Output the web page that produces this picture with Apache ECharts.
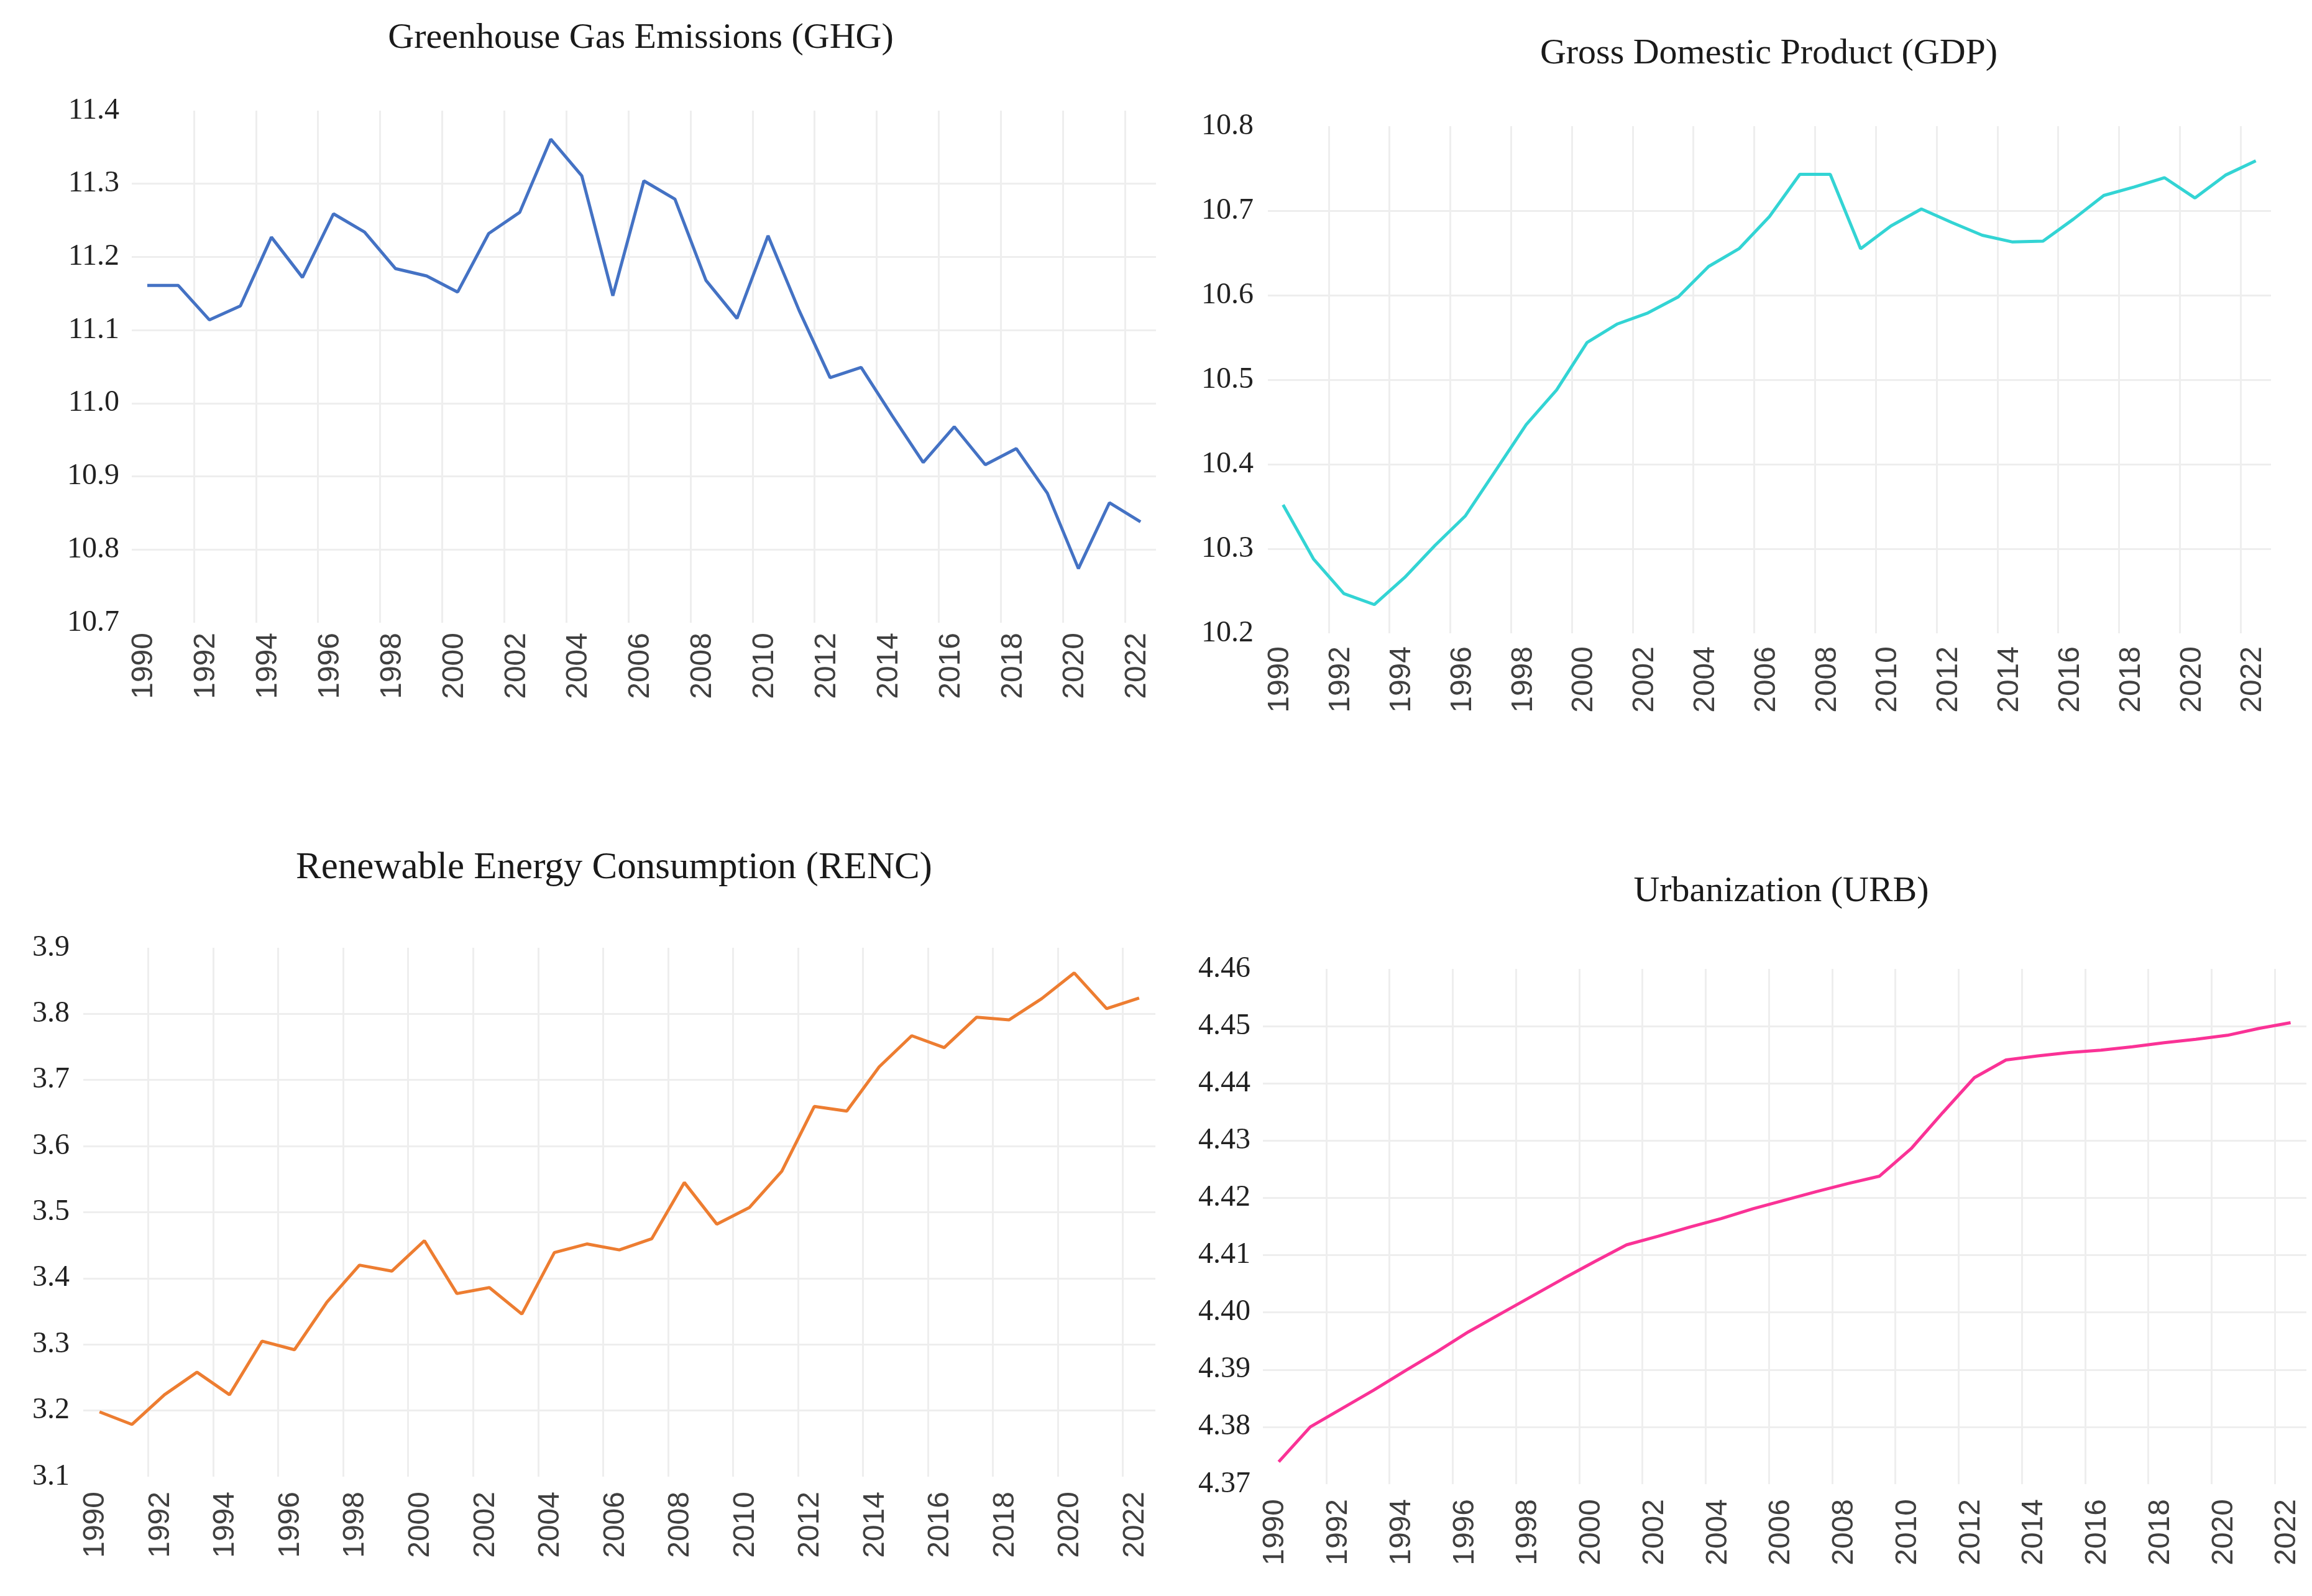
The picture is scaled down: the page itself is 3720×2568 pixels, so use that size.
<!DOCTYPE html>
<html>
<head>
<meta charset="utf-8">
<script src="https://cdn.jsdelivr.net/npm/echarts@6/dist/echarts.min.js"></script>
<style>
html,body{margin:0;padding:0;background:#fff;}
#chart{width:3720px;height:2568px;}
</style>
</head>
<body>
<div id="chart"></div>
<script>
const years = [1990,1991,1992,1993,1994,1995,1996,1997,1998,1999,2000,2001,2002,2003,2004,2005,2006,2007,2008,2009,2010,2011,2012,2013,2014,2015,2016,2017,2018,2019,2020,2021,2022];

const ghg = [11.161,11.161,11.114,11.133,11.227,11.172,11.259,11.234,11.184,11.174,11.152,11.232,11.261,11.361,11.311,11.147,11.304,11.279,11.168,11.116,11.229,11.127,11.035,11.049,10.983,10.919,10.968,10.916,10.938,10.877,10.774,10.864,10.838];

const gdp = [10.352,10.288,10.247,10.234,10.266,10.304,10.339,10.393,10.447,10.488,10.544,10.566,10.579,10.598,10.634,10.655,10.693,10.743,10.743,10.655,10.682,10.702,10.686,10.671,10.663,10.664,10.690,10.718,10.728,10.739,10.715,10.742,10.759];

const renc = [3.198,3.179,3.224,3.258,3.224,3.305,3.292,3.364,3.420,3.411,3.457,3.377,3.386,3.346,3.439,3.452,3.443,3.460,3.545,3.482,3.507,3.562,3.660,3.653,3.720,3.767,3.749,3.795,3.791,3.823,3.862,3.808,3.824];

const urb = [4.3739,4.3800,4.3832,4.3864,4.3898,4.3931,4.3966,4.3997,4.4028,4.4059,4.4089,4.4118,4.4133,4.4149,4.4164,4.4181,4.4196,4.4211,4.4225,4.4238,4.4286,4.4349,4.4410,4.4441,4.4448,4.4454,4.4458,4.4464,4.4471,4.4477,4.4484,4.4496,4.4506];

const titles = ['Greenhouse Gas Emissions (GHG)','Gross Domestic Product (GDP)','Renewable Energy Consumption (RENC)','Urbanization (URB)'];
const seriesValues = [ghg, gdp, renc, urb];
const yMins = [10.7, 10.2, 3.1, 4.37];
const yMaxs = [11.4, 10.8, 3.9, 4.46];
const yIntervals = [0.1, 0.1, 0.1, 0.01];
const yDecimals = [1, 1, 1, 2];
const xMin = 1990, xMax = 2023, xInterval = 2;

// layout (pixels)
const grids = [
  {left:212, top:178, width:1648, height:824},
  {left:2040, top:203, width:1614, height:816},
  {left:134, top:1525, width:1725, height:851},
  {left:2032, top:1559, width:1679, height:829}
];
const titlePos = [[1031,62],[2846,87],[988,1397],[2866,1435]];
const titleSizes = [58,58,61,58];
const colors = ['#4472C4','#33D4D4','#ED7D31','#FA3296'];
const xLabelMargins = [16,21,24,24];
const yLabelMargins = [20,23,22,20];

const gridLine = {show:true, showMinLine:false, showMaxLine:false, lineStyle:{color:'#eeeeee', width:3}};

const option = {
  backgroundColor:'#ffffff',
  animation:false,
  title: titles.map((t,i)=>({
    text:t, left:titlePos[i][0], top:titlePos[i][1]-30, textAlign:'center', padding:0,
    textStyle:{fontFamily:'Liberation Serif', fontSize:titleSizes[i], fontWeight:'normal', color:'#1a1a1a', lineHeight:60}
  })),
  grid: grids.map(g=>Object.assign({containLabel:false}, g)),
  xAxis: grids.map((g,i)=>({
    type:'value', gridIndex:i, min:xMin, max:xMax, interval:xInterval,
    axisLine:{show:false}, axisTick:{show:false},
    splitLine:gridLine,
    axisLabel:{
      rotate:90, margin:xLabelMargins[i], showMaxLabel:false,
      fontFamily:"'Liberation Sans Narrow','Liberation Sans',sans-serif", fontSize:48, color:'#404040',
      verticalAlign:'top', lineHeight:40,
      formatter:v=> (v > 2022 ? '' : String(v))
    }
  })),
  yAxis: grids.map((g,i)=>({
    type:'value', gridIndex:i, min:yMins[i], max:yMaxs[i], interval:yIntervals[i],
    axisLine:{show:false}, axisTick:{show:false},
    splitLine:gridLine,
    axisLabel:{
      margin:yLabelMargins[i], fontFamily:'Liberation Serif', fontSize:48, color:'#222222',
      padding:[0,0,20,0],
      formatter:v=>Number(v).toFixed(yDecimals[i])
    }
  })),
  series: seriesValues.map((vals,i)=>({
    type:'line', xAxisIndex:i, yAxisIndex:i, showSymbol:false, smooth:false,
    lineStyle:{color:colors[i], width:5}, itemStyle:{color:colors[i]},
    data: years.map((y,k)=>[y + 0.5, vals[k]])
  }))
};

const chart = echarts.init(document.getElementById('chart'), null, {renderer:'canvas'});
chart.setOption(option);
</script>
</body>
</html>
